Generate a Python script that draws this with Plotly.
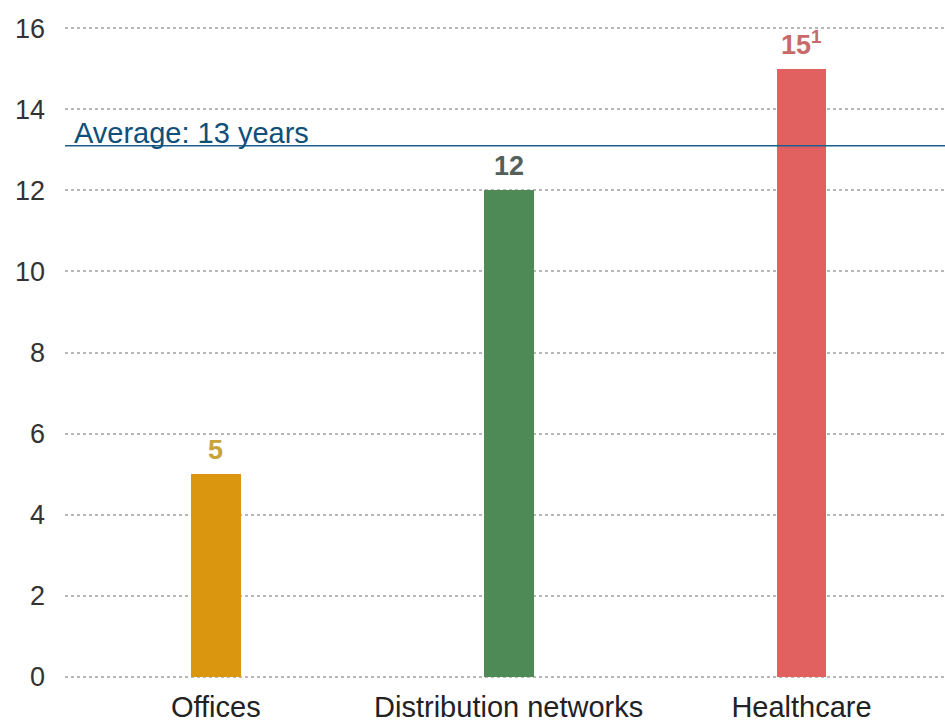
import plotly.graph_objects as go

# Average remaining lease length by sector (years)
categories = ["Offices", "Distribution networks", "Healthcare"]
values = [5, 12, 15]
value_labels = ["5", "12", "15<sup>1</sup>"]
average_value = 13.1
average_label = "Average: 13 years"
y_ticks = [0, 2, 4, 6, 8, 10, 12, 14, 16]

bar_colors = ["#d9960e", "#4e8a56", "#e0615f"]
label_colors = ["#c9a23a", "#56605a", "#c86a6a"]

FONT = "Liberation Sans, Arial, sans-serif"

fig = go.Figure()
fig.add_trace(go.Bar(
    x=list(range(len(categories))),
    y=values,
    width=0.17,
    marker=dict(color=bar_colors, line=dict(width=0)),
    hoverinfo="skip",
    showlegend=False,
))

# value labels above each bar
for i, (v, txt, col) in enumerate(zip(values, value_labels, label_colors)):
    fig.add_annotation(
        x=i, y=v, text=f"<b>{txt}</b>", showarrow=False,
        xanchor="center", yanchor="bottom", yshift=7,
        font=dict(family=FONT, size=27, color=col),
    )

# average reference line
fig.add_shape(
    type="line", xref="paper", yref="y", x0=0, x1=1,
    y0=average_value, y1=average_value,
    line=dict(color="#1c5f8c", width=1.5),
)
fig.add_annotation(
    xref="paper", yref="y", x=0.008, y=average_value,
    text=average_label, showarrow=False,
    xanchor="left", yanchor="bottom", yshift=-5,
    font=dict(family=FONT, size=29, color="#0f4f78"),
)

fig.update_layout(
    width=945, height=722,
    margin=dict(l=65, r=0, t=24, b=41),
    paper_bgcolor="white", plot_bgcolor="white",
    font=dict(family=FONT),
    bargap=0,
)
fig.update_xaxes(
    range=[-0.515, 2.49],
    tickmode="array",
    tickvals=list(range(len(categories))),
    ticktext=categories,
    tickfont=dict(family=FONT, size=29, color="#222222"),
    showgrid=False, zeroline=False, showline=False,
    ticks="", ticklabelstandoff=6,
)
fig.update_yaxes(
    range=[-0.1, 16.1],
    tickmode="array", tickvals=y_ticks,
    tickfont=dict(family=FONT, size=27, color="#333333"),
    showgrid=True, gridcolor="#b8b8b8", gridwidth=1.5, griddash="dot",
    zeroline=False, showline=False, ticks="", ticklabelstandoff=19,
)

fig.write_html("out.html")
